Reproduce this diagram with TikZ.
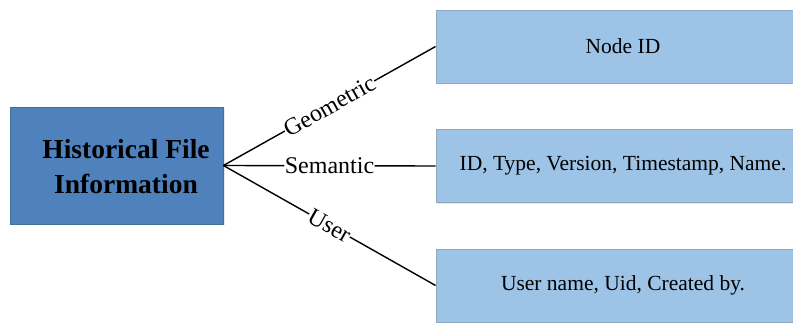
\documentclass[tikz,border=0pt]{standalone}
\usepackage{fontspec}
\setmainfont{Liberation Serif}
\usetikzlibrary{shadows}
\definecolor{mainfill}{HTML}{4F81BD}
\definecolor{mainedge}{HTML}{41719C}
\definecolor{subfill}{HTML}{9DC3E6}
\definecolor{subedge}{HTML}{8FA9C0}
\begin{document}
\begin{tikzpicture}[x=1pt,y=-1pt,
  mainbox/.style={draw=mainedge, fill=mainfill, line width=0.8pt, minimum width=213pt, minimum height=117pt,
    inner sep=0pt,
    drop shadow={shadow xshift=1.5pt, shadow yshift=-1.5pt, opacity=0.2}},
  maintext/.style={align=center, font=\fontsize{27.5}{35}\selectfont\bfseries, inner sep=0pt},
  subbox/.style={draw=subedge, fill=subfill, line width=0.8pt, minimum width=374pt, minimum height=73pt,
    font=\fontsize{21.5}{26}\selectfont, inner sep=0pt,
    drop shadow={shadow xshift=1.5pt, shadow yshift=-1.5pt, opacity=0.2}},
  link/.style={line width=1.4pt, black},
  lbl/.style={fill=white, inner sep=0.5pt, sloped, pos=0.5, font=\fontsize{24}{28}\selectfont}]
\useasboundingbox (0,0) rectangle (793,323);
\node[mainbox] (h) at (116.5,165.5) {};
\node[maintext] (ht) at (126,167) {Historical File\\Information};
\node[subbox] (n1) at (623,46.5) {Node ID};
\node[subbox] (n2) at (623,166) {ID, Type, Version, Timestamp, Name.};
\node[subbox] (n3) at (623,285.5) {User name, Uid, Created by.};
\draw[link] (h.east) -- node[lbl] {Geometric} (n1.west);
\draw[link] (h.east) -- node[lbl] {Semantic} (n2.west);
\draw[link] (h.east) -- node[lbl] {User} (n3.west);
\end{tikzpicture}
\end{document}
